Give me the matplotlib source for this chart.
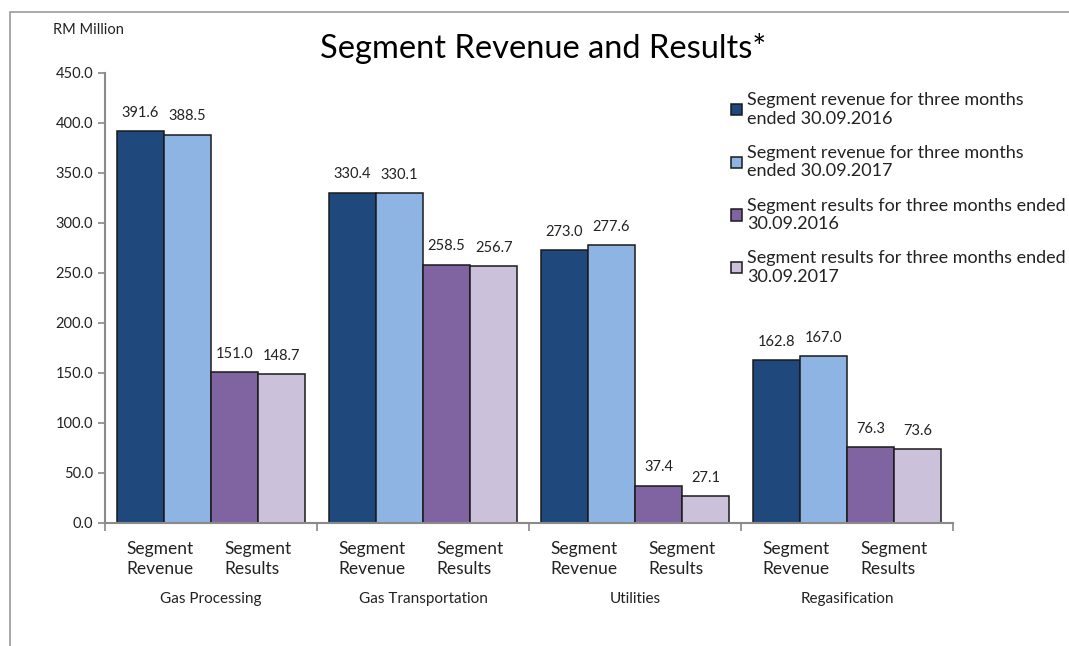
import matplotlib.pyplot as plt
import numpy as np
from matplotlib.patches import Rectangle
from matplotlib.transforms import blended_transform_factory

plt.rcParams['font.family'] = ['Lato', 'DejaVu Sans']

GROUPS = ["Gas Processing", "Gas Transportation", "Utilities", "Regasification"]
SERIES = [
    "Segment revenue for three months\nended 30.09.2016",
    "Segment revenue for three months\nended 30.09.2017",
    "Segment results for three months ended\n30.09.2016",
    "Segment results for three months ended\n30.09.2017",
]
REV_2016 = [391.6, 330.4, 273.0, 162.8]
REV_2017 = [388.5, 330.1, 277.6, 167.0]
RES_2016 = [151.0, 258.5, 37.4, 76.3]
RES_2017 = [148.7, 256.7, 27.1, 73.6]
COLORS = ["#1f497d", "#8eb4e3", "#8064a2", "#ccc1da"]
Y_TICKS = [0, 50, 100, 150, 200, 250, 300, 350, 400, 450]

fig = plt.figure(figsize=(10.69, 6.46), dpi=100)
ax = fig.add_axes([105 / 1069, 1 - 523 / 646, 848 / 1069, 450 / 646])

# grey frame around the chart
fig.patches.append(Rectangle((10 / 1069, -0.1), 1.2, 1 - 12 / 646 + 0.1,
                             transform=fig.transFigure, fill=False,
                             edgecolor="#9a9a9a", linewidth=1.2))

x = np.arange(len(GROUPS))
width = 0.2225
offsets = [-1.5, -0.5, 0.5, 1.5]
for vals, col, off, lab in zip([REV_2016, REV_2017, RES_2016, RES_2017],
                               COLORS, offsets, SERIES):
    b = ax.bar(x + off * width, vals, width, color=col, edgecolor="#1a1a1a",
               linewidth=1.1, label=lab)
    for rect, v in zip(b, vals):
        ax.annotate(f"{v:.1f}", (rect.get_x() + rect.get_width() / 2, v),
                    xytext=(0, 8), textcoords="offset points",
                    ha="center", va="bottom", fontsize=10.5, color="#222222")

ax.set_xlim(-0.5, 3.5)
ax.set_ylim(0, 450)
ax.set_yticks(Y_TICKS)
ax.set_yticklabels([f"{t:.1f}" for t in Y_TICKS], fontsize=10.5, color="#222222")
ax.set_xticks(np.arange(-0.5, 4.0, 1.0))
ax.set_xticklabels([])
ax.tick_params(axis="y", length=5, color="#888888", width=1.2)
ax.tick_params(axis="x", length=6, color="#888888", width=1.2, direction="out")
for s in ["top", "right"]:
    ax.spines[s].set_visible(False)
for s in ["left", "bottom"]:
    ax.spines[s].set_color("#8a8a8a")
    ax.spines[s].set_linewidth(1.5)

trans = blended_transform_factory(ax.transData, fig.transFigure)
for i, g in enumerate(GROUPS):
    ax.text(i - width - 0.02, 1 - 559 / 646, "Segment\nRevenue", transform=trans,
            ha="center", va="center", multialignment="left", fontsize=12.5,
            color="#222222", linespacing=1.25)
    ax.text(i + width, 1 - 559 / 646, "Segment\nResults", transform=trans,
            ha="center", va="center", multialignment="left", fontsize=12.5,
            color="#222222", linespacing=1.25)
    ax.text(i, 1 - 599 / 646, g, transform=trans, ha="center", va="center",
            fontsize=11, color="#222222")

fig.text(53 / 1069, 1 - 30 / 646, "RM Million", fontsize=10.5, color="#222222",
         va="center")
fig.text(543 / 1069, 1 - 48 / 646, "Segment Revenue and Results*",
         fontsize=23.5, ha="center", va="center", color="black")

ax.legend(loc="upper left", bbox_to_anchor=(724 / 1069, 1 - 85 / 646),
          bbox_transform=fig.transFigure, frameon=False,
          fontsize=13, handlelength=0.6, handleheight=0.6, handletextpad=0.3,
          labelspacing=1.0, borderaxespad=0, labelcolor="#222222",
          alignment="left")

fig.savefig("out.png", dpi=100)
